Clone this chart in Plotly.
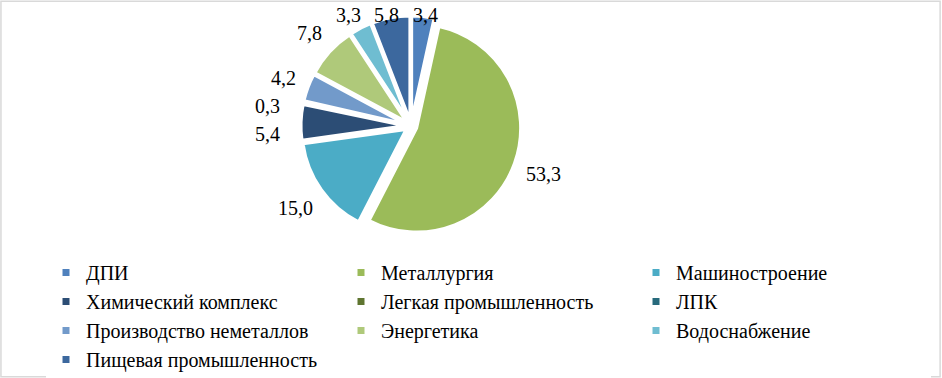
import math
import plotly.graph_objects as go

categories = ["ДПИ", "Металлургия", "Машиностроение", "Химический комплекс",
              "Легкая промышленность", "ЛПК", "Производство неметаллов",
              "Энергетика", "Водоснабжение", "Пищевая промышленность"]
values = [3.4, 53.3, 15.0, 5.4, 0.0, 0.3, 4.2, 7.8, 3.3, 5.8]
colors = ["#4F81BD", "#9BBB59", "#4BACC6", "#2C4D75", "#5F7530",
          "#276A7C", "#729ACA", "#AFC97A", "#6FBDD1", "#3C689E"]

labels_text = [("%.1f" % v).replace(".", ",") if v > 0 else "" for v in values]

W, H = 942, 378
cx, cy = 411, 126          # pie centre (px)
PULL = 0.058
R_BOX = 110                # radius incl. pull (px)
FONT = "Liberation Serif, Times New Roman, Tinos, DejaVu Serif, serif"
FS = 20
FS_LEG = 20
LINE_H = 28

fig = go.Figure()
fig.add_trace(go.Pie(
    labels=categories, values=values,
    textinfo="none",
    marker=dict(colors=colors, line=dict(color="#FFFFFF", width=3)),
    sort=False, direction="clockwise", rotation=0,
    pull=PULL, showlegend=False, hoverinfo="label+value", automargin=False,
    domain=dict(x=[(cx - R_BOX) / W, (cx + R_BOX) / W],
                y=[1 - (cy + R_BOX) / H, 1 - (cy - R_BOX) / H]),
))

# data labels at the outside end of each slice, positioned from the values
total = sum(values)
placed = []
cum = 0.0
for v, t in zip(values, labels_text):
    mid = (cum + v / 2) / total * 2 * math.pi
    cum += v
    if not t:
        placed.append(None)
        continue
    ux, uy = math.sin(mid), -math.cos(mid)
    tw = 0.5 * FS * (len(t) - 1) + 0.25 * FS
    d = R_BOX + abs(ux) * tw / 2 + abs(uy) * FS / 2 + 11
    placed.append([cx + ux * d, cy + uy * d, d, t])

# resolve overlapping labels on the left side (push the lower one down)
prev = None
for item in reversed(placed):
    if item is None:
        continue
    px, py, d, t = item
    if px < cx and prev is not None and prev[0] < cx and abs(px - prev[0]) < 30:
        if py - prev[1] < LINE_H:
            py = prev[1] + LINE_H
            dy = py - cy
            px = cx - math.sqrt(max(d * d - dy * dy, 0)) - 10
            item[0], item[1] = px, py
    prev = item

annotations = []
for item in placed:
    if item is None:
        continue
    px, py, d, t = item
    py = max(py, 15)
    annotations.append(dict(x=px / W, y=1 - py / H, xref="paper", yref="paper",
                            text=t, showarrow=False, xanchor="center", yanchor="middle",
                            font=dict(family=FONT, size=FS, color="#000000")))

for name, col in zip(categories, colors):
    fig.add_trace(go.Scatter(x=[None], y=[None], mode="markers", name=name,
                             marker=dict(symbol="square", size=7, color=col)))

fig.update_layout(
    width=W, height=H,
    margin=dict(l=0, r=0, t=0, b=0, autoexpand=False),
    paper_bgcolor="#FFFFFF", plot_bgcolor="#FFFFFF",
    xaxis=dict(visible=False), yaxis=dict(visible=False),
    legend=dict(orientation="h", xref="container", yref="container",
                x=46 / W, xanchor="left", y=1 - 253 / H, yanchor="top",
                entrywidth=250, entrywidthmode="pixels", traceorder="normal",
                font=dict(family=FONT, size=FS_LEG, color="#000000"),
                itemclick=False, itemdoubleclick=False),
    annotations=annotations,
    shapes=[dict(type="rect", xref="paper", yref="paper", x0=0.001, y0=0.003, x1=0.998, y1=0.997,
                 line=dict(color="#D9D9D9", width=1.5))],
)

fig.write_html("out.html", config={"displayModeBar": False},
               post_script="document.body.style.margin='0';")
